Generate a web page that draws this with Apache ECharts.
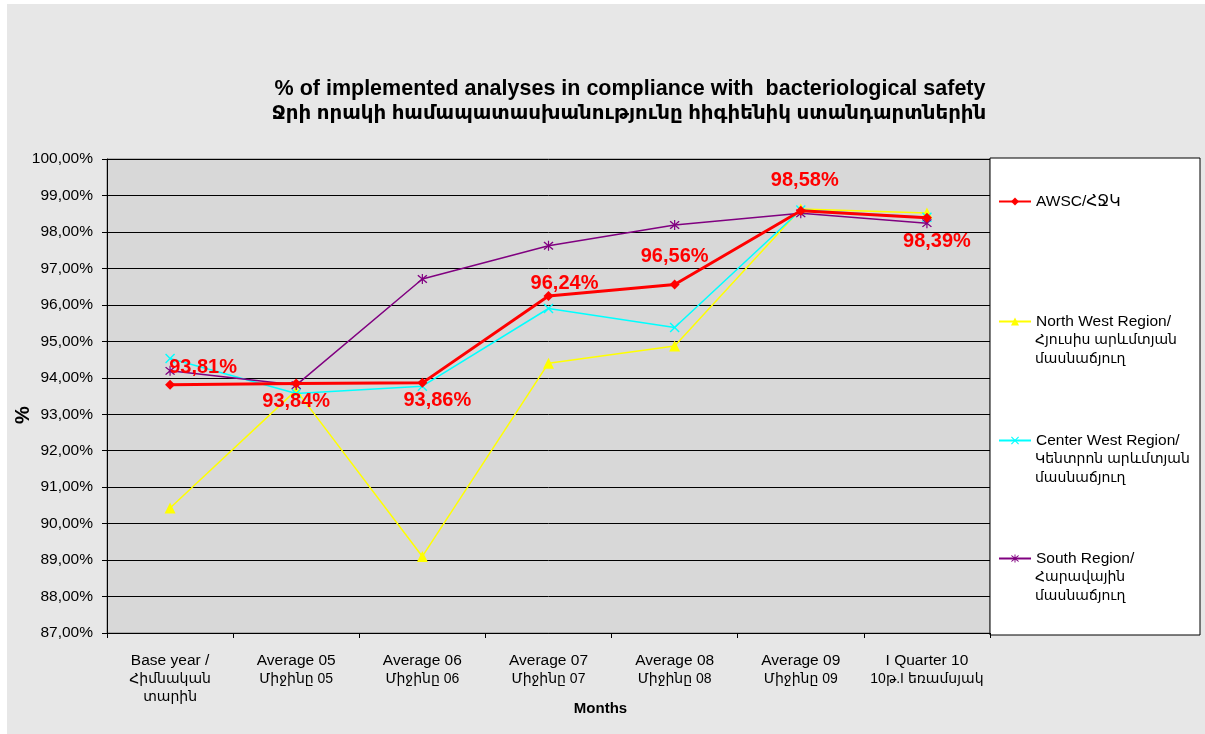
<!DOCTYPE html>
<html><head><meta charset="utf-8">
<script src="https://cdn.jsdelivr.net/npm/echarts@6/dist/echarts.min.js"></script>
<style>
html,body{margin:0;padding:0;background:#fff;}
#bg{position:absolute;left:7px;top:4px;width:1198px;height:730px;background:#e7e7e7;}
#c{position:absolute;left:0;top:0;width:1205px;height:734px;}
</style></head><body>
<div id="bg"></div>
<div id="c"></div>
<script>
const titleLines = ["% of implemented analyses in compliance with  bacteriological safety", "Ջրի որակի համապատասխանությունը հիգիենիկ ստանդարտներին"];
const categories = ["Base year /\nՀիմնական\nտարին","Average 05\nՄիջինը 05","Average 06\nՄիջինը 06","Average 07\nՄիջինը 07","Average 08\nՄիջինը 08","Average 09\nՄիջինը 09","I Quarter 10\n10թ.I եռամսյակ"];
const seriesNames = ["AWSC/ՀՋԿ","North West Region/","Center West Region/","South Region/"];
const legendExtraLines = [[], ["Հյուսիս արևմտյան","մասնաճյուղ"], ["Կենտրոն արևմտյան","մասնաճյուղ"], ["Հարավային","մասնաճյուղ"]];
const awsc = [93.81, 93.84, 93.86, 96.24, 96.56, 98.58, 98.39];
const northWest = [90.43, 93.66, 89.10, 94.40, 94.87, 98.63, 98.52];
const centerWest = [94.53, 93.57, 93.77, 95.90, 95.38, 98.60, 98.40];
const south = [94.19, 93.80, 96.71, 97.62, 98.19, 98.51, 98.24];
const yTicks = {min: 87, max: 100, interval: 1};

const labelOffsets = [[33,-17],[0,18],[15,18],[16,-13],[0,-28],[4,-30],[10,24]];
const fmt = v => v.toFixed(2).replace('.', ',') + '%';
const FONT = '"Liberation Sans", Arial, "DejaVu Sans", sans-serif';
const isArm = s => /[\u0530-\u058F]/.test(s);

const xSym = 'path://M0,1L1,0L5,4L9,0L10,1L6,5L10,9L9,10L5,6L1,10L0,9L4,5Z';
const starSym = 'path://M0,1L1,0L5,4L9,0L10,1L6,5L10,9L9,10L5,6L1,10L0,9L4,5ZM4.4,-1L5.6,-1L5.6,11L4.4,11Z';

const legendCenters = [201, 321, 440, 558];
const LEG_LH = 19;
const graphics = [{
  type: 'rect', shape: {x: 990, y: 158, width: 210, height: 477},
  style: {fill: '#fff', stroke: '#000', lineWidth: 1}, z: 0
}];
legendExtraLines.forEach((lines, i) => {
  lines.forEach((t, j) => {
    graphics.push({type: 'text', x: 1035, y: legendCenters[i] + LEG_LH * (j + 1), z: 10,
      style: {text: t, fontFamily: FONT, fontSize: 14, fill: '#000', verticalAlign: 'middle', align: 'left'}});
  });
});

const chart = echarts.init(document.getElementById('c'), null, {renderer:'canvas'});
chart.setOption({
  backgroundColor: 'transparent',
  animation: false,
  title: [
    {text: titleLines[0], left: 625, top: 73, textAlign: 'center',
     textStyle: {fontFamily: FONT, fontWeight: 'bold', fontSize: 21.5, color: '#000'}},
    {text: titleLines[1], left: 624, top: 99, textAlign: 'center',
     textStyle: {fontFamily: FONT, fontWeight: 'bold', fontSize: 19.8, color: '#000'}}
  ],
  graphic: graphics,
  legend: seriesNames.map((n, i) => ({
    data: [n], left: 993, top: legendCenters[i] - 14, orient: 'vertical',
    itemWidth: 32, itemHeight: 10, itemGap: 0,
    textStyle: {fontFamily: FONT, fontSize: 15.5, lineHeight: LEG_LH, color: '#000'}
  })),
  grid: {left: 107, top: 159, right: 215, bottom: 101, outerBoundsMode: 'none', containLabel: false,
    show: true, backgroundColor: '#d8d8d8', borderColor: '#808080', borderWidth: 1},
  xAxis: {
    type: 'category', data: categories, boundaryGap: true,
    name: 'Months', nameLocation: 'middle', nameGap: 68, nameMoveOverlap: false,
    nameTextStyle: {fontFamily: FONT, fontWeight: 'bold', fontSize: 15, color: '#000', padding: [0, 0, 0, 104]},
    axisLine: {lineStyle: {color: '#000', width: 1}},
    axisTick: {show: true, length: 5, lineStyle: {color: '#000'}},
    axisLabel: {
      formatter: v => v.split('\n').map(l => isArm(l) ? '{a|' + l + '}' : '{l|' + l + '}').join('\n'),
      rich: {
        l: {fontFamily: FONT, fontSize: 15.5, lineHeight: 18.5, color: '#000'},
        a: {fontFamily: FONT, fontSize: 14, lineHeight: 18.5, color: '#000'}
      },
      fontFamily: FONT, fontSize: 15.5, lineHeight: 18.5, color: '#000', margin: 18, interval: 0}
  },
  yAxis: {
    type: 'value', min: yTicks.min, max: yTicks.max, interval: yTicks.interval,
    name: '%', nameLocation: 'middle', nameGap: 74, nameRotate: 90, nameMoveOverlap: false,
    nameTextStyle: {fontFamily: FONT, fontWeight: 'bold', fontSize: 20, color: '#000', padding: [0, 38, 0, 0]},
    axisLine: {show: true, lineStyle: {color: '#000'}},
    axisTick: {show: true, length: 5, lineStyle: {color: '#000'}},
    axisLabel: {formatter: fmt, fontFamily: FONT, fontSize: 15.5, color: '#000', margin: 14},
    splitLine: {show: true, lineStyle: {color: '#000', width: 1}}
  },
  series: [
    {name: seriesNames[1], type: 'line', data: northWest, z: 3,
     lineStyle: {color: '#ffff00', width: 1.5}, itemStyle: {color: '#ffff00'},
     symbol: 'triangle', symbolSize: 11, showAllSymbol: true},
    {name: seriesNames[2], type: 'line', data: centerWest, z: 4,
     lineStyle: {color: '#00ffff', width: 1.5}, itemStyle: {color: '#00ffff'},
     symbol: xSym, symbolSize: 10, showAllSymbol: true},
    {name: seriesNames[3], type: 'line', data: south, z: 5,
     lineStyle: {color: '#800080', width: 1.5}, itemStyle: {color: '#800080'},
     symbol: starSym, symbolSize: 10, showAllSymbol: true},
    {name: seriesNames[0], type: 'line', data: awsc, z: 6,
     lineStyle: {color: '#ff0000', width: 3}, itemStyle: {color: '#ff0000'},
     symbol: 'diamond', symbolSize: 10, showAllSymbol: true,
     label: {show: true, position: 'inside', formatter: p => fmt(p.value),
       fontFamily: FONT, fontWeight: 'bold', fontSize: 20, color: '#ff0000'},
     labelLayout: p => ({dx: labelOffsets[p.dataIndex][0], dy: labelOffsets[p.dataIndex][1]})
    }
  ]
});
</script>
</body></html>
